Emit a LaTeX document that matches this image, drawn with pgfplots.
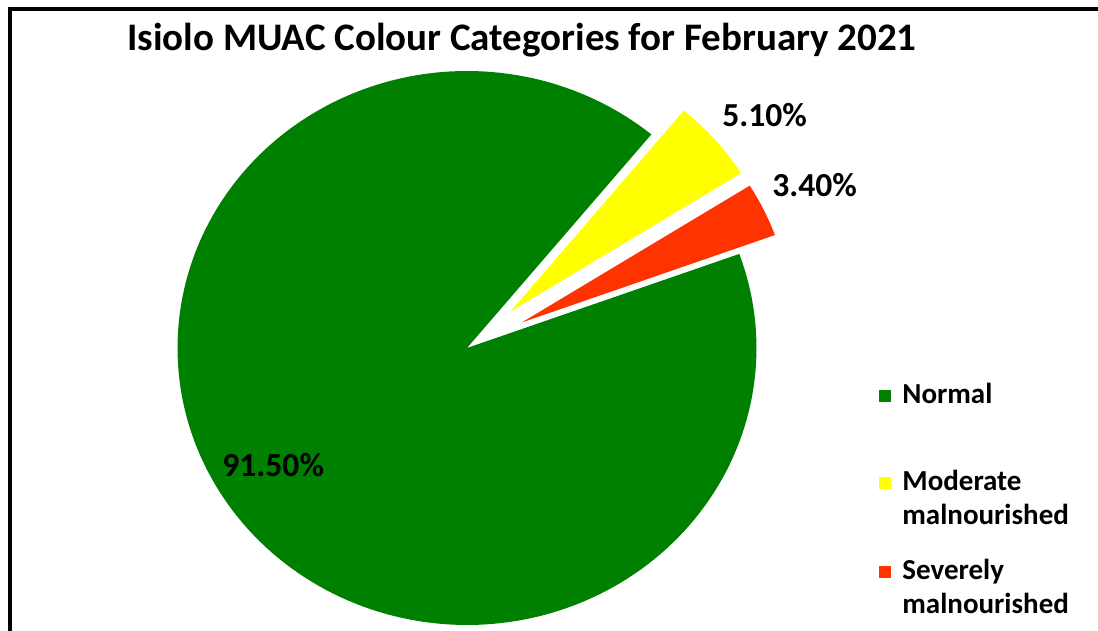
\documentclass[border=0pt]{standalone}
\usepackage{fontspec}
\setmainfont{Carlito}
\usepackage{pgfplots}
\pgfplotsset{compat=1.18}
\definecolor{pgreen}{RGB}{0,128,0}
\definecolor{pyellow}{RGB}{255,255,0}
\definecolor{pred}{RGB}{255,51,0}
% data (percent)
\def\vN{91.5}
\def\vM{5.1}
\def\vS{3.4}
\begin{document}
\begin{tikzpicture}
\pgfmathsetmacro\aZero{50.45}
\pgfmathsetmacro\aNend{\aZero+3.6*\vN}
\pgfmathsetmacro\aMst{\aZero-3.6*\vM}
\pgfmathsetmacro\aSst{\aMst-3.6*\vS}
\pgfmathsetmacro\bM{(\aZero+\aMst)/2}
\pgfmathsetmacro\bS{(\aMst+\aSst)/2}
\pgfmathsetmacro\oMx{0.20*cos(\bM)}
\pgfmathsetmacro\oMy{0.20*sin(\bM)}
\pgfmathsetmacro\oSx{0.21*cos(\bS)}
\pgfmathsetmacro\oSy{0.21*sin(\bS)}
\path[use as bounding box] (0,0) rectangle (549pt,315.5pt);
\begin{axis}[
  at={(0,0)}, anchor=south west,
  width=549pt, height=315.5pt, scale only axis,
  xmin=-1.61313, xmax=2.17962, ymin=-1.02166, ymax=1.25632,
  hide axis,
]
\addplot[fill=pgreen, draw=none, domain=\aZero:\aNend, samples=200, variable=\t]
  ({cos(\t)},{sin(\t)}) -- (axis cs:0,0) -- cycle;
\addplot[fill=pyellow, draw=none, domain=\aMst:\aZero, samples=30, variable=\t]
  ({\oMx+0.94*cos(\t)},{\oMy+0.94*sin(\t)}) -- (axis cs:\oMx,\oMy) -- cycle;
\addplot[fill=pred, draw=none, domain=\aSst:\aMst, samples=30, variable=\t]
  ({\oSx+0.93*cos(\t)},{\oSy+0.93*sin(\t)}) -- (axis cs:\oSx,\oSy) -- cycle;
\end{axis}
\begin{scope}[x=0.5pt, y=-0.5pt, shift={(0,315.5pt)}]
  \begin{scope}
    \clip (0,0) rectangle (1098,631);
    \draw[line width=2pt, line cap=rect] (10,650) -- (10,9) -- (1110,9);
  \end{scope}
  \node[anchor=base, inner sep=0, font=\bfseries\fontsize{19.5}{22}\selectfont] at (522,51)
    {Isiolo MUAC Colour Categories for February 2021};
  \begin{scope}[every node/.style={anchor=base west, inner sep=0, font=\bfseries\fontsize{16.8}{19}\selectfont}]
    \node at (722,127) {5.10\%};
    \node at (772,197) {3.40\%};
    \node at (222,477) {91.50\%};
  \end{scope}
  \fill[pgreen] (879,390) rectangle (891,402);
  \fill[pyellow] (879,477) rectangle (891,489);
  \fill[pred] (879,566) rectangle (891,578);
  \begin{scope}[every node/.style={anchor=base west, inner sep=0, font=\bfseries\fontsize{14.5}{17}\selectfont}]
    \node at (902,404) {Normal};
    \node at (902,491) {Moderate};
    \node at (902,525) {malnourished};
    \node at (902,580) {Severely};
    \node at (902,614) {malnourished};
  \end{scope}
\end{scope}
\end{tikzpicture}
\end{document}
